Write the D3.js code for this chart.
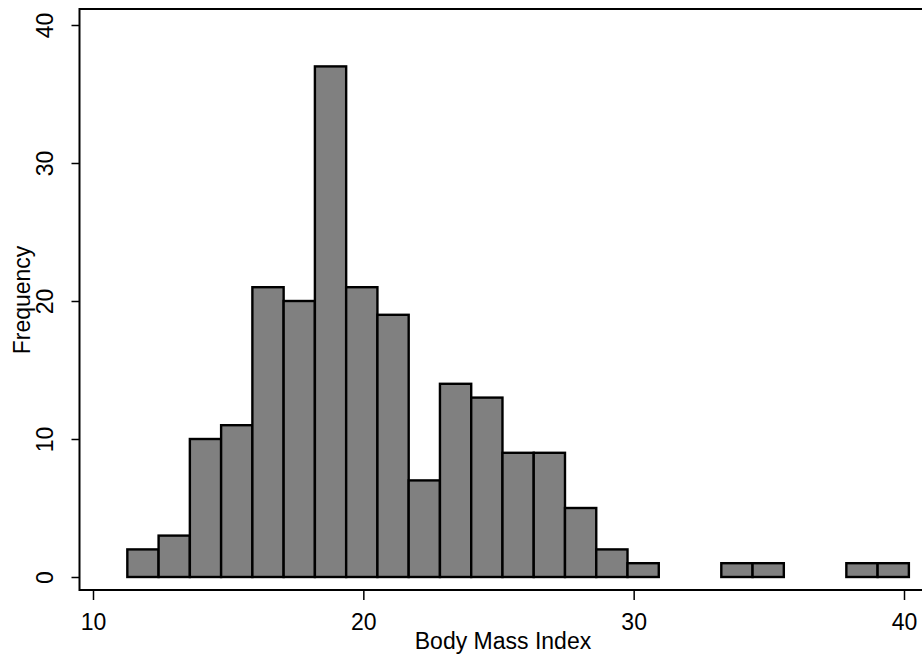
<!DOCTYPE html>
<html>
<head>
<meta charset="utf-8">
<script src="https://cdn.jsdelivr.net/npm/d3@7"></script>
<style>
  body { margin: 0; background: #fff; }
  svg { display: block; }
  text { font-family: "Liberation Sans", Arial, sans-serif; fill: #000; }
</style>
</head>
<body>
<div id="chart"></div>
<script>
// histogram of BMI, bins
var binStart = 11.27;
var binWidth = 1.1564;
var counts = [2, 3, 10, 11, 21, 20, 37, 21, 19, 7, 14, 13, 9, 9, 5, 2, 1, 0, 0, 1, 1, 0, 0, 1, 1];
var xTicks = [10, 20, 30, 40];
var yTicks = [0, 10, 20, 30, 40];

function drawChart(){

    var width = 922;
    var height = 657;
    var frame = {left: 79.5, top: 9, right: 935, bottom: 590};

    var xScale = d3.scaleLinear()
    .domain([10, 40])
    .range([93, 904]);

    var yScale = d3.scaleLinear()
    .domain([0, 40])
    .range([577, 25]);

    var bins = counts.map(function(c, i) {
        return {x0: binStart + i * binWidth, x1: binStart + (i + 1) * binWidth, n: c};
    }).filter(function(d) { return d.n > 0; });

    var svg = d3.select("#chart").append("svg")
    .attr("width", width)
    .attr("height", height);

    svg.append("rect")
    .attr("width", width)
    .attr("height", height)
    .attr("fill", "#fff");

    // plot frame
    svg.append("rect")
    .attr("x", frame.left)
    .attr("y", frame.top)
    .attr("width", frame.right - frame.left)
    .attr("height", frame.bottom - frame.top)
    .attr("fill", "none")
    .attr("stroke", "#000")
    .attr("stroke-width", 2);

    svg.selectAll(".bar")
    .data(bins)
    .enter().append("rect")
    .attr("class", "bar")
    .attr("x", function(d) { return xScale(d.x0); })
    .attr("y", function(d) { return yScale(d.n); })
    .attr("width", function(d) { return xScale(d.x1) - xScale(d.x0); })
    .attr("height", function(d) { return yScale(0) - yScale(d.n); })
    .attr("fill", "#808080")
    .attr("stroke", "#000")
    .attr("stroke-width", 2.4);

    var xAxis = svg.append("g")
    .attr("transform", "translate(0," + frame.bottom + ")")
    .call(d3.axisBottom(xScale).tickValues(xTicks).tickSize(10).tickFormat(d3.format("d")));
    xAxis.select(".domain").remove();
    xAxis.selectAll("line").attr("stroke", "#000").attr("stroke-width", 1.5);
    xAxis.selectAll("text")
    .attr("y", 40)
    .attr("dy", 0)
    .style("font-size", "23px")
    .style("font-family", "'Liberation Sans', Arial, sans-serif")
    .attr("fill", "#000");

    var yAxis = svg.append("g")
    .attr("transform", "translate(" + frame.left + ",0)")
    .call(d3.axisLeft(yScale).tickValues(yTicks).tickSize(8).tickFormat(d3.format("d")));
    yAxis.select(".domain").remove();
    yAxis.selectAll("line").attr("stroke", "#000").attr("stroke-width", 1.5);
    yAxis.selectAll("text")
    .attr("transform", "rotate(-90)")
    .attr("x", 0)
    .attr("y", -26.5)
    .attr("dy", 0)
    .style("text-anchor", "middle")
    .style("font-size", "23px")
    .style("font-family", "'Liberation Sans', Arial, sans-serif")
    .attr("fill", "#000");

    svg.append("text")
    .attr("x", 503)
    .attr("y", 649)
    .style("text-anchor", "middle")
    .style("font-size", "23px")
    .text("Body Mass Index");

    svg.append("text")
    .attr("transform", "rotate(-90)")
    .attr("x", -300)
    .attr("y", 30)
    .style("text-anchor", "middle")
    .style("font-size", "23px")
    .text("Frequency");
}

drawChart();
</script>
</body>
</html>
